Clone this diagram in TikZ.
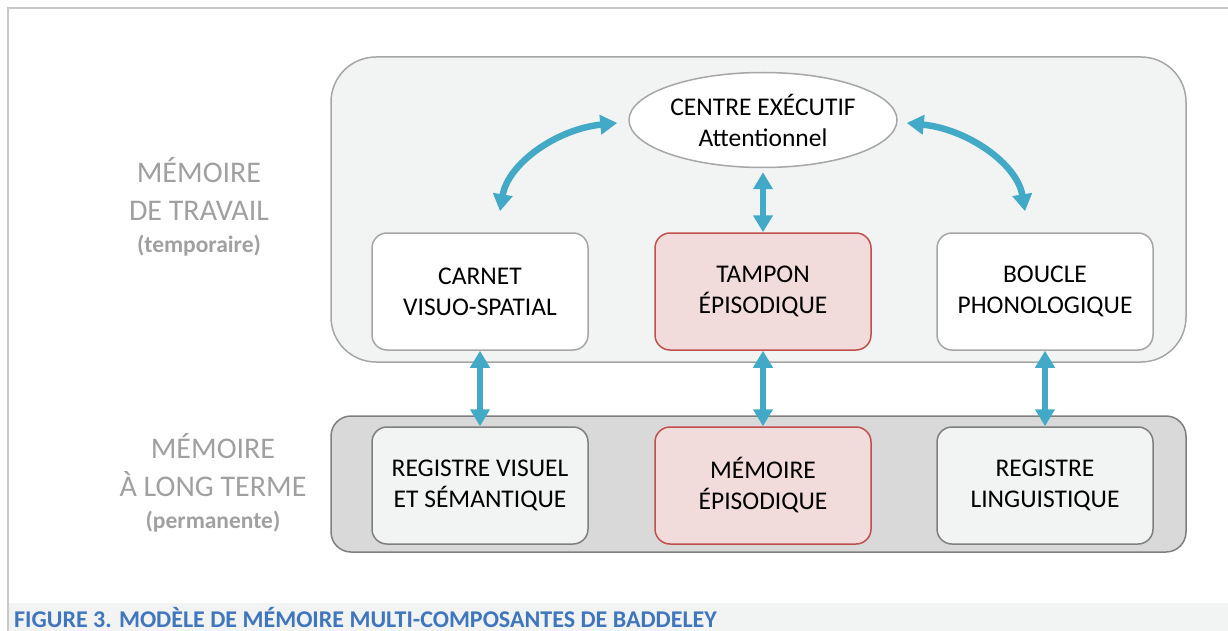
\documentclass[tikz,border=0pt]{standalone}
\usepackage{fontspec}
\setmainfont{Carlito}
\usetikzlibrary{arrows.meta,shapes.geometric,positioning}
\definecolor{framegray}{HTML}{C8C8C8}
\definecolor{boxgray}{HTML}{A6A6A6}
\definecolor{darkgray}{HTML}{7F7F7F}
\definecolor{lightfill}{HTML}{F2F3F3}
\definecolor{ltmfill}{HTML}{D9D9D9}
\definecolor{pinkfill}{HTML}{F2DCDB}
\definecolor{pinkdraw}{HTML}{C0504D}
\definecolor{arrowblue}{HTML}{42AAC7}
\definecolor{labelgray}{HTML}{A0A0A0}
\definecolor{captionblue}{HTML}{3F76BD}

\begin{document}
\begin{tikzpicture}[x=1pt,y=-1pt]
\tikzstyle{compbox}=[draw=boxgray,line width=1.5pt,fill=white,rounded corners=15pt,minimum width=216pt,minimum height=117pt,align=center,inner sep=0pt,font=\fontsize{25.5}{31}\selectfont]
\tikzstyle{pinkbox}=[compbox,draw=pinkdraw,fill=pinkfill]
\tikzstyle{ltmbox}=[compbox,draw=darkgray,fill=lightfill]
\tikzstyle{arr}=[arrowblue,line width=6.5pt,{Triangle[width=19pt,length=17pt]}-{Triangle[width=19pt,length=17pt]}]
\tikzstyle{sidelabel}=[labelgray,align=center,font=\fontsize{30}{38}\selectfont]

\useasboundingbox (0,0) rectangle (1228,631);

% frame and caption band
\fill[lightfill] (8,603) rectangle (1228,631);
\draw[framegray,line width=2pt] (8,631) -- (8,8) -- (1228,8);
\node (caption) [anchor=base west,captionblue,font=\fontsize{24}{28}\bfseries\selectfont,inner sep=0pt] at (14,627)
   {FIGURE 3. MODÈLE DE MÉMOIRE MULTI-COMPOSANTES DE BADDELEY};

% the two stores
\node (wm) [draw=boxgray,line width=1.5pt,fill=lightfill,rounded corners=45pt,minimum width=855pt,minimum height=305pt] at (758.5,209.5) {};
\node (ltm) [draw=darkgray,line width=1.5pt,fill=ltmfill,rounded corners=20pt,minimum width=855pt,minimum height=136pt] at (758.5,484) {};

\node (wmlabel) [sidelabel] at (199,207) {MÉMOIRE\\DE TRAVAIL\\[-6pt]{\fontsize{23.5}{26}\bfseries\selectfont (temporaire)}};
\node (ltmlabel) [sidelabel] at (213,483) {MÉMOIRE\\À LONG TERME\\[-6pt]{\fontsize{23.5}{26}\bfseries\selectfont (permanente)}};

% working memory components
\node (ce) [ellipse,draw=boxgray,line width=1.5pt,fill=white,minimum width=268pt,minimum height=95pt,inner sep=0pt,align=center,font=\fontsize{25.5}{31}\selectfont] at (763,120)
   {CENTRE EXÉCUTIF\\Attentionnel};
\node (carnet) [compbox] at (480,291.5) {CARNET\\VISUO-SPATIAL};
\node (tampon) [pinkbox] at (763,291.5) {TAMPON\\ÉPISODIQUE};
\node (boucle) [compbox] at (1045,291.5) {BOUCLE\\PHONOLOGIQUE};

% long-term components
\node (visuel) [ltmbox] at (480,485.5) {REGISTRE VISUEL\\ET SÉMANTIQUE};
\node (episod) [pinkbox] at (763,485.5) {MÉMOIRE\\ÉPISODIQUE};
\node (lingu) [ltmbox] at (1045,485.5) {REGISTRE\\LINGUISTIQUE};

% links
\coordinate (lend) at ([xshift=20pt,yshift=21pt]carnet.north);
\coordinate (rend) at ([xshift=-20pt,yshift=21pt]boucle.north);
\draw [arr] ([xshift=-11pt,yshift=-3pt]ce.west) .. controls +(-60,6) and +(8,-48) .. (lend);
\draw [arr] ([xshift=9pt,yshift=-3pt]ce.east) .. controls +(60,6) and +(-8,-48) .. (rend);
\draw [arr,shorten <=4pt] (ce.south) -- (tampon.north);

\draw [arr] (carnet.south) -- (visuel.north);
\draw [arr] (tampon.south) -- (episod.north);
\draw [arr] (boucle.south) -- (lingu.north);

\end{tikzpicture}
\end{document}
